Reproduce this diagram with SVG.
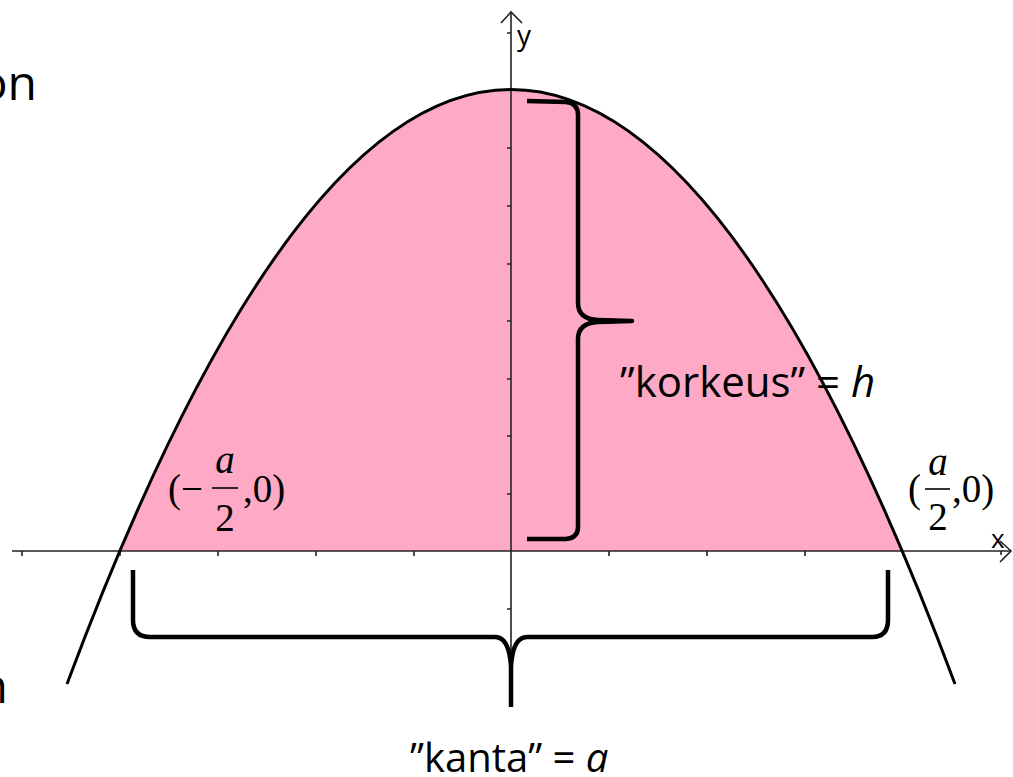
<svg xmlns="http://www.w3.org/2000/svg" width="1013" height="777" viewBox="0 0 1013 777">
<style>
.axis{stroke:#222;stroke-width:1.6;fill:none}
.tick{stroke:#222;stroke-width:1.6}
.curve{stroke:#000;stroke-width:3;fill:none}
.brace{stroke:#000;stroke-width:4.5;fill:none;stroke-linejoin:round}
.sans{font-family:"Open Sans","Noto Sans",sans-serif;fill:#000}
.serif{font-family:"Liberation Serif","Times New Roman",serif;fill:#000;font-size:39px}
</style>
<rect width="1013" height="777" fill="#fff"/>
<g id="region">
<path d="M120,551 Q511,-371 902,551 Z" fill="#FEAAC7"/>
</g>
<g id="axes">
<path class="axis" d="M12,551 L1011,551"/>
<path class="axis" d="M1000,541 L1011,551 L1000,562"/>
<path class="axis" d="M511,707 L511,12"/>
<path class="axis" d="M501,23 L511,12 L522,23"/>
<g class="tick">
<path d="M22,551v5M120,551v5M218,551v5M316,551v5M414,551v5M609,551v5M707,551v5M805,551v5M903,551v5M1001,551v4"/>
<path d="M507,33h4M507,90h4M507,148h4M507,206h4M507,264h4M507,321h4M507,379h4M507,436h4M507,494h4M507,609h4"/>
</g>
<text class="sans" x="517" y="45" font-size="28">y</text>
<text class="sans" x="991" y="548" font-size="26">x</text>
</g>
<g id="parabola">
<path class="curve" d="M67,684 Q511,-504.8 955,684"/>
</g>
<g id="connectors">
<path id="brace-h" class="brace" d="M527,101 L566,102 Q578,103 578,115 L578,303 Q578,319 598,320 L632,321 L598,322 Q578,323 578,339 L578,527 Q578,538 566,539 L527,539"/>
<path id="brace-a" class="brace" d="M133,570 L133,620 Q133,637 150,637 L495,637 Q509,637 511,666 L511,707 M511,666 Q513,637 527,637 L872,637 Q888,637 888,620 L888,570"/>
</g>
<g id="label-left">
<text class="serif" x="168" y="502">(−</text>
<text class="serif" x="225" y="473" text-anchor="middle" font-style="italic">a</text>
<path d="M212,488 H238" stroke="#000" stroke-width="1.6"/>
<text class="serif" x="225" y="531" text-anchor="middle">2</text>
<text class="serif" x="243" y="502">,0)</text>
</g>
<g id="label-right">
<text class="serif" x="908" y="502">(</text>
<text class="serif" x="938" y="475" text-anchor="middle" font-style="italic">a</text>
<path d="M925,489 H950" stroke="#000" stroke-width="1.6"/>
<text class="serif" x="938" y="530" text-anchor="middle">2</text>
<text class="serif" x="952" y="502">,0)</text>
</g>
<g id="label-h">
<text class="sans" x="620" y="397" font-size="42">”korkeus” = <tspan font-style="italic">h</tspan></text>
</g>
<g id="label-a">
<text class="sans" x="410" y="772" font-size="40">”kanta” = <tspan font-style="italic">a</tspan></text>
</g>
<g id="edge-text">
<text class="sans" x="37" y="100" font-size="48" text-anchor="end">on</text>
<text class="sans" x="8" y="703" font-size="48" text-anchor="end">n</text>
</g>
</svg>
